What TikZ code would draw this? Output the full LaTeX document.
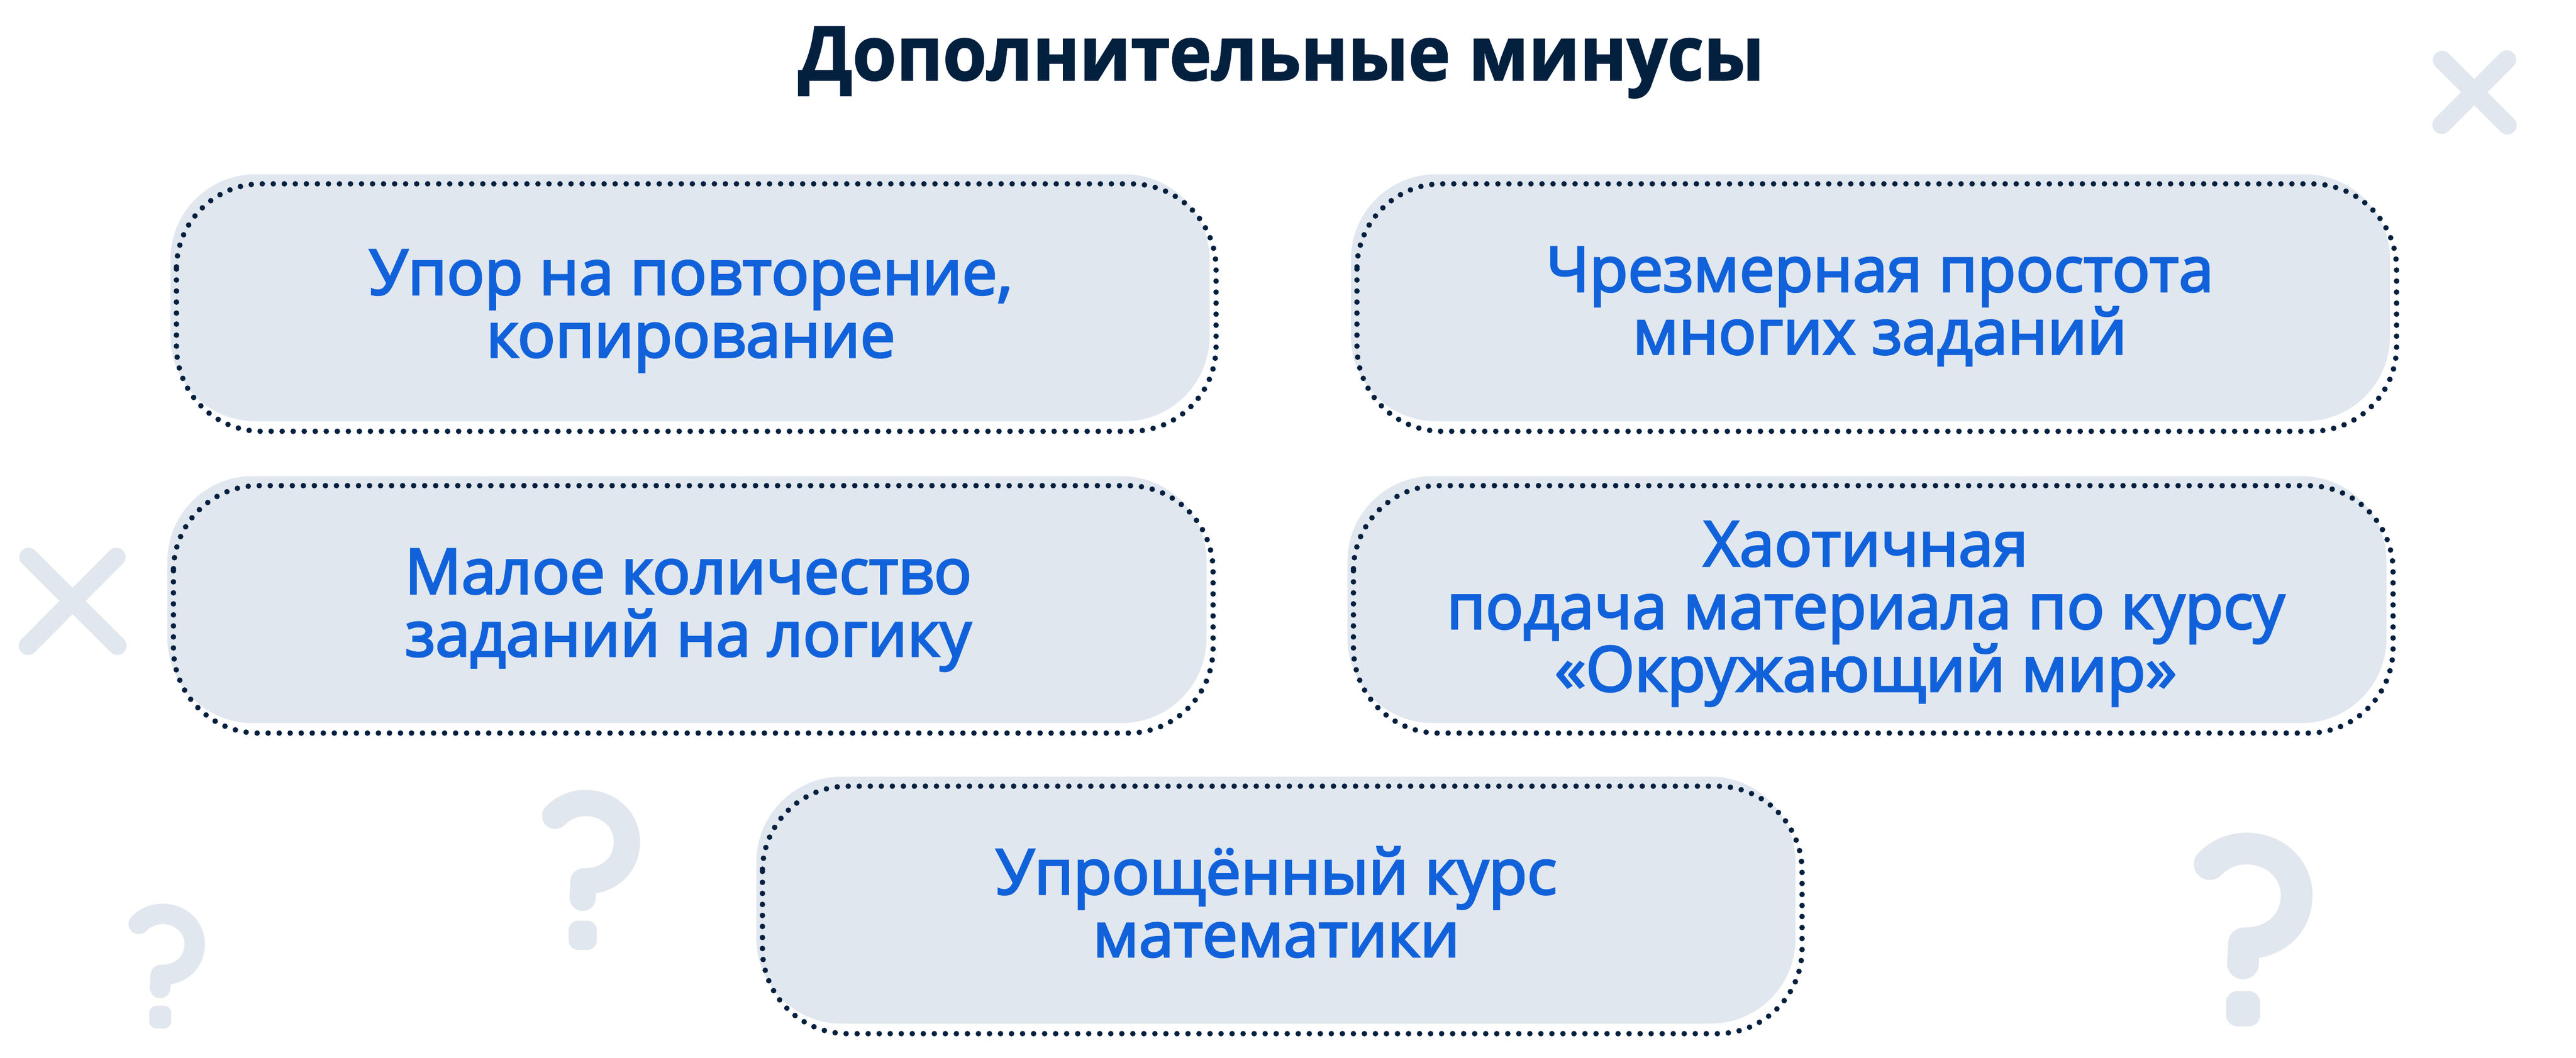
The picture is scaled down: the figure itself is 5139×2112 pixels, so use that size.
\documentclass[tikz,border=0pt]{standalone}
\usepackage{fontspec}
\newfontfamily\titlefont{Open Sans}[UprightFont=* Bold,FakeBold=1.5,FakeStretch=0.945]
\newfontfamily\bodyfont{Open Sans}[FakeBold=3,FakeStretch=1.0]
\definecolor{navy}{HTML}{03203F}
\definecolor{pale}{HTML}{E1E7EE}
\definecolor{bluetext}{HTML}{1162DA}
\tikzset{
  fillbox/.style={fill=pale,draw=none,rounded corners=170pt,minimum width=2073pt,minimum height=493pt,inner sep=0pt,outer sep=0pt},
  dotbox/.style={draw=navy,line width=11pt,line cap=round,dash pattern=on 0pt off 22pt,rounded corners=170pt},
  boxtext/.style={text=bluetext,font=\bodyfont\fontsize{125}{125}\selectfont,align=center,anchor=base,inner sep=0pt,outer sep=0pt},
  titletext/.style={text=navy,font=\titlefont\fontsize{150}{150}\selectfont,anchor=base,inner sep=0pt,outer sep=0pt},
  crossmark/.style={draw=pale,line width=37pt,line cap=round},
}
\newcommand{\qmark}[3]{%
  \begin{scope}[shift={(#1,#2)},x=#3pt,y=-#3pt]
    \draw[draw=pale,line width={190*#3 pt},line cap=round,line join=round]
      (325,375) .. controls (390,310) and (465,282) .. (545,282)
      .. controls (720,282) and (845,410) .. (845,560)
      .. controls (845,730) and (720,850) .. (530,850) -- (524,970);
    \fill[pale,rounded corners={70*#3 pt}] (422,1135) rectangle (627,1347);
  \end{scope}}
\begin{document}
\begin{tikzpicture}[x=1pt,y=-1pt]
\useasboundingbox (0,0) rectangle (5139,2112);
\fill[white] (0,0) rectangle (5139,2112);
\node[titletext] (title) at (2556,160) {Дополнительные минусы};
% decorations
\coordinate (xa1) at (4872,120); \coordinate (xa2) at (5002,250);
\coordinate (xa3) at (5001,119); \coordinate (xa4) at (4871,249);
\draw[crossmark] (xa1) -- (xa2); \draw[crossmark] (xa3) -- (xa4);
\coordinate (xb1) at (57,1112); \coordinate (xb2) at (234,1289);
\coordinate (xb3) at (232,1112); \coordinate (xb4) at (56,1289);
\draw[crossmark] (xb1) -- (xb2); \draw[crossmark] (xb3) -- (xb4);
\qmark{4300}{1600}{0.33333}
\qmark{1018}{1525.5}{0.2753}
\qmark{207}{1764}{0.2147}
% boxes
\node[fillbox] (box1) at (1376.5,594.5) {};
\node[fillbox] (box2) at (3731.5,594.5) {};
\node[fillbox] (box3) at (1370.5,1197) {};
\node[fillbox] (box4) at (3724.5,1197) {};
\node[fillbox] (box5) at (2545.5,1797) {};
\draw[dotbox] ([shift={(12,19)}]box1.north west) rectangle ++(2074,494);
\draw[dotbox] ([shift={(12,19)}]box2.north west) rectangle ++(2074,494);
\draw[dotbox] ([shift={(12,19)}]box3.north west) rectangle ++(2074,494);
\draw[dotbox] ([shift={(12,19)}]box4.north west) rectangle ++(2074,494);
\draw[dotbox] ([shift={(12,19)}]box5.north west) rectangle ++(2074,494);
\node[boxtext] (t1) at (1378,713) {Упор на повторение,\\копирование};
\node[boxtext] (t2) at (3750,707) {Чрезмерная простота\\многих заданий};
\node[boxtext] (t3) at (1373,1310) {Малое количество\\заданий на логику};
\node[boxtext] (t4) at (3722,1380) {Хаотичная\\подача материала по курсу\\«Окружающий мир»};
\node[boxtext] (t5) at (2546,1910) {Упрощённый курс\\математики};
\end{tikzpicture}
\end{document}
